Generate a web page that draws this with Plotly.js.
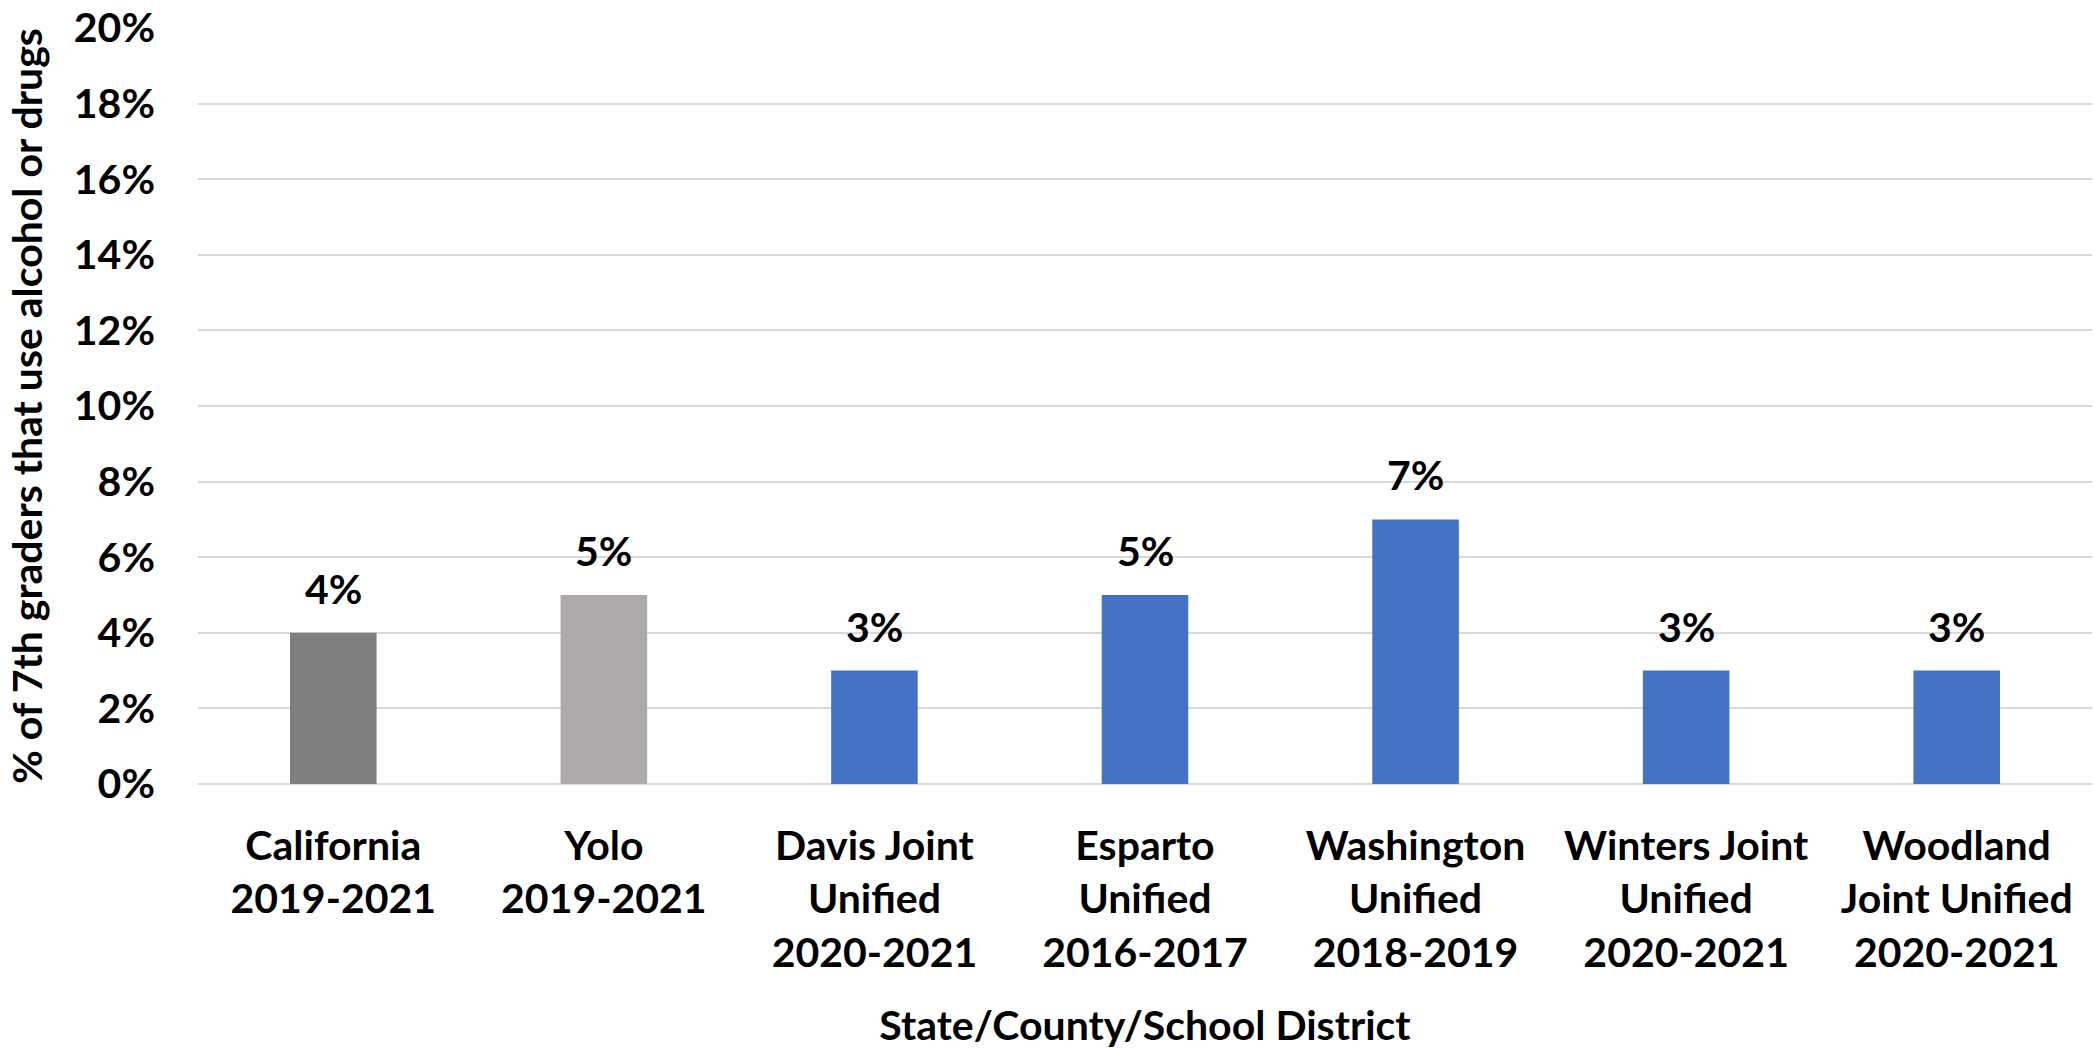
<!DOCTYPE html>
<html>
<head>
<meta charset="utf-8">
<script src="https://cdn.plot.ly/plotly-3.0.1.min.js"></script>
<style>html,body{margin:0;padding:0;background:#fff;}#chart{width:2094px;height:1049px;}</style>
</head>
<body>
<div id="chart"></div>
<script>
const categories = [
  "California<br>2019-2021",
  "Yolo<br>2019-2021",
  "Davis Joint<br>Unified<br>2020-2021",
  "Esparto<br>Unified<br>2016-2017",
  "Washington<br>Unified<br>2018-2019",
  "Winters Joint<br>Unified<br>2020-2021",
  "Woodland<br>Joint Unified<br>2020-2021"
];
const values = [4, 5, 3, 5, 7, 3, 3];
const barColors = ["#7f7f7f", "#aeaaaa", "#4472c4", "#4472c4", "#4472c4", "#4472c4", "#4472c4"];
const yTicks = [0, 2, 4, 6, 8, 10, 12, 14, 16, 18, 20];
const yTickLabels = ["0%", "2%", "4%", "6%", "8%", "10%", "12%", "14%", "16%", "18%", "20%"];

const FONT = "Lato, 'Open Sans', sans-serif";
const FS = 41;

const trace = {
  type: "bar",
  x: categories,
  y: values,
  marker: {color: barColors, line: {width: 0}},
  hoverinfo: "skip"
};

const annotations = categories.map((c, i) => ({
  x: c, y: values[i], xref: "x", yref: "y",
  text: values[i] + "%", showarrow: false,
  yanchor: "bottom", yshift: 18,
  font: {family: FONT, size: FS, color: "#000", weight: 700}
}));

const layout = {
  width: 2094, height: 1049,
  margin: {l: 198, r: 2, t: 28, b: 265},
  paper_bgcolor: "#fff", plot_bgcolor: "#fff",
  bargap: 0.68,
  showlegend: false,
  font: {family: FONT, size: FS, color: "#000", weight: 700},
  xaxis: {
    type: "category",
    showgrid: false, zeroline: false, showline: false,
    ticks: "", ticklabelstandoff: 34,
    tickfont: {family: FONT, size: FS, color: "#000", weight: 700},
    title: {text: "State/County/School District", standoff: 52,
            font: {family: FONT, size: FS, color: "#000", weight: 700}}
  },
  yaxis: {
    range: [0, 20], tickmode: "array", tickvals: yTicks, ticktext: yTickLabels,
    showgrid: true, gridcolor: "#d9d9d9", gridwidth: 2,
    zeroline: true, zerolinecolor: "#d9d9d9", zerolinewidth: 2,
    showline: false, ticks: "", ticklabelstandoff: 42,
    tickfont: {family: FONT, size: FS, color: "#000", weight: 700},
    title: {text: "% of 7th graders that use alcohol or drugs", standoff: 18,
            font: {family: FONT, size: FS, color: "#000", weight: 700}}
  },
  annotations: annotations
};

Plotly.newPlot("chart", [trace], layout, {displayModeBar: false, staticPlot: true});
</script>
</body>
</html>
